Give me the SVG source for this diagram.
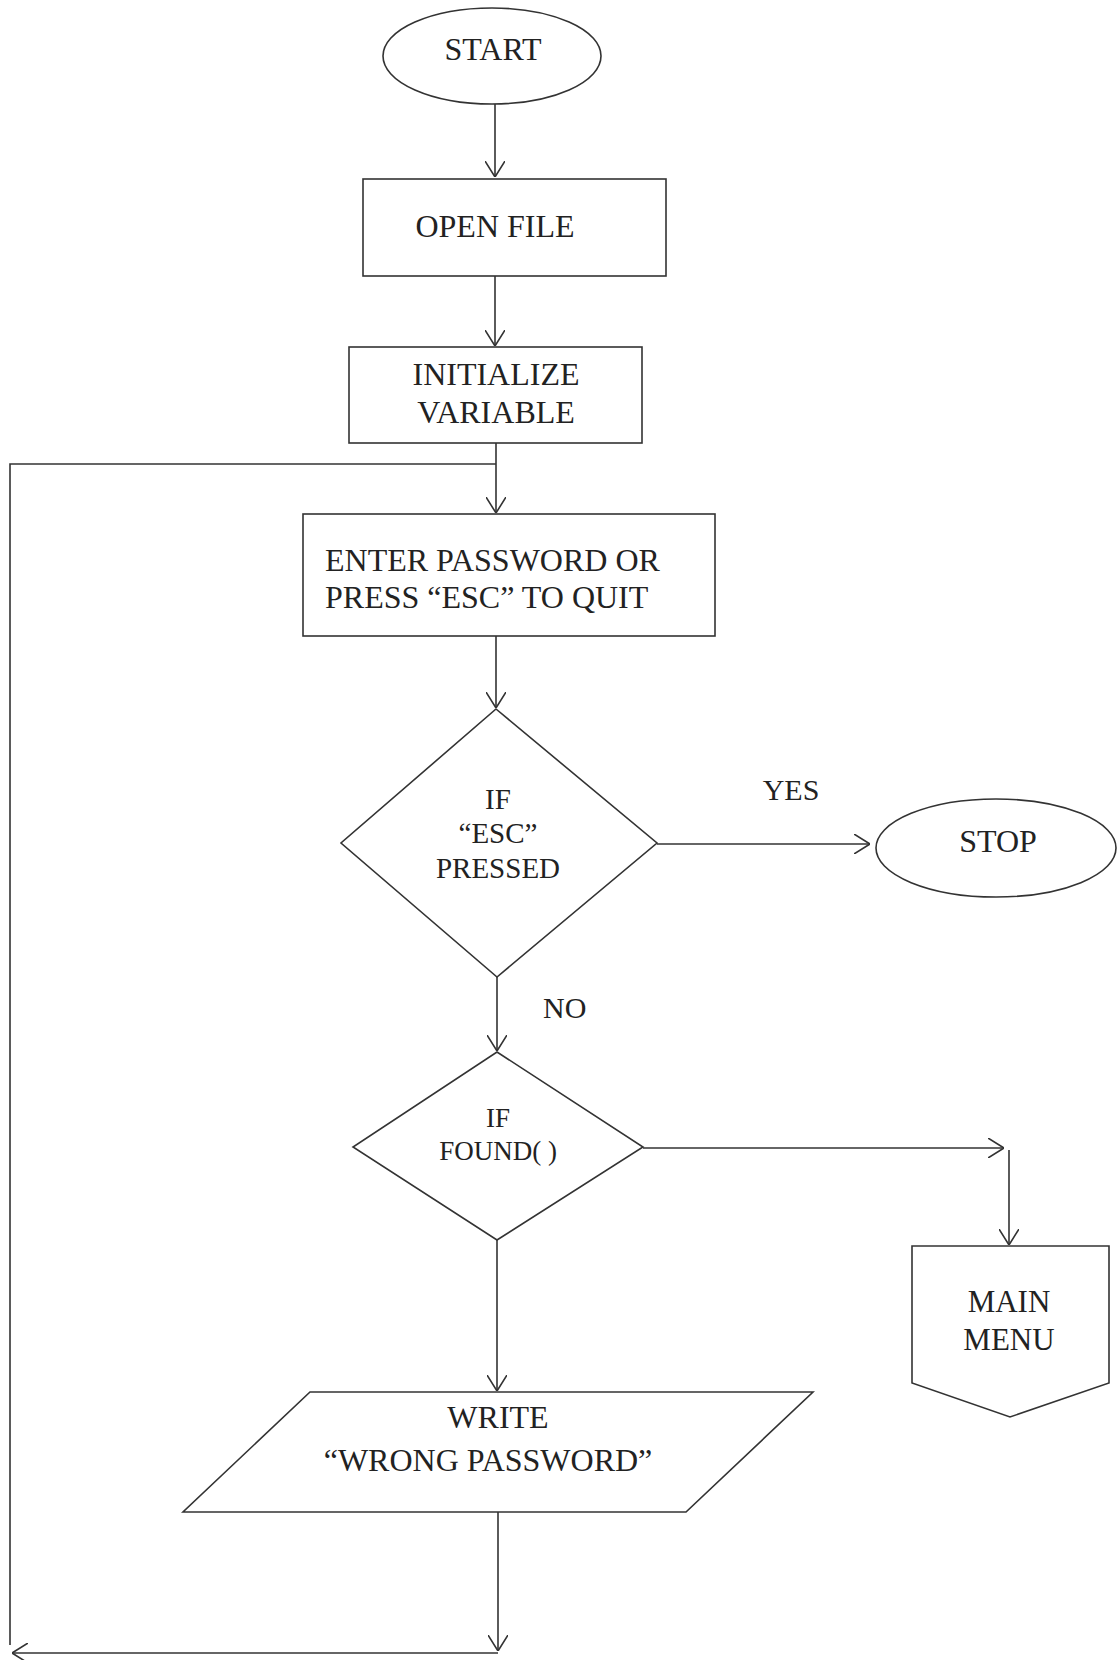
<svg xmlns="http://www.w3.org/2000/svg" width="1117" height="1660" viewBox="0 0 1117 1660">
<style>
.s{fill:none;stroke:#333;stroke-width:1.6}
.n{fill:#fff;stroke:#333;stroke-width:1.6}
.t{font-family:"Liberation Serif","Times New Roman",serif;fill:#222;text-anchor:middle}
.l{font-family:"Liberation Serif","Times New Roman",serif;fill:#222}
</style>
<defs>
<marker id="ah" viewBox="0 0 16 20" refX="16" refY="10" markerWidth="16" markerHeight="20" markerUnits="userSpaceOnUse" orient="auto">
<path d="M0,0 L16,10 L0,20" fill="none" stroke="#333" stroke-width="1.6"/>
</marker>
</defs>
<rect width="1117" height="1660" fill="#fff"/>
<g id="connectors">
<line class="s" x1="495" y1="104" x2="495" y2="177" marker-end="url(#ah)"/>
<line class="s" x1="495" y1="276" x2="495" y2="346" marker-end="url(#ah)"/>
<line class="s" x1="496" y1="443" x2="496" y2="513" marker-end="url(#ah)"/>
<polyline class="s" points="10,1645 10,464 496,464"/>
<line class="s" x1="496" y1="636" x2="496" y2="708" marker-end="url(#ah)"/>
<line class="s" x1="657" y1="844" x2="870" y2="844" marker-end="url(#ah)"/>
<line class="s" x1="497" y1="977" x2="497" y2="1051" marker-end="url(#ah)"/>
<line class="s" x1="643" y1="1148" x2="1004" y2="1148" marker-end="url(#ah)"/>
<line class="s" x1="1009" y1="1150" x2="1009" y2="1245" marker-end="url(#ah)"/>
<line class="s" x1="497" y1="1240" x2="497" y2="1391" marker-end="url(#ah)"/>
<line class="s" x1="498" y1="1512" x2="498" y2="1651" marker-end="url(#ah)"/>
<line class="s" x1="498" y1="1653" x2="12" y2="1653" marker-end="url(#ah)"/>
</g>
<g id="start">
<ellipse class="n" cx="492" cy="56" rx="109" ry="48"/>
<text class="t" x="493" y="60" font-size="32">START</text>
</g>
<g id="openfile">
<rect class="n" x="363" y="179" width="303" height="97"/>
<text class="t" x="495" y="237" font-size="32">OPEN FILE</text>
</g>
<g id="init">
<rect class="n" x="349" y="347" width="293" height="96"/>
<text class="t" x="496" y="385" font-size="32">INITIALIZE</text>
<text class="t" x="496" y="423" font-size="32">VARIABLE</text>
</g>
<g id="enter">
<rect class="n" x="303" y="514" width="412" height="122"/>
<text class="l" x="325" y="571" font-size="32">ENTER PASSWORD OR</text>
<text class="l" x="325" y="608" font-size="32">PRESS “ESC” TO QUIT</text>
</g>
<g id="ifesc">
<polygon class="n" points="496,709 657,843 497,977 341,843"/>
<text class="t" x="498" y="809" font-size="29">IF</text>
<text class="t" x="498" y="843" font-size="29">“ESC”</text>
<text class="t" x="498" y="878" font-size="29">PRESSED</text>
</g>
<text class="t" x="791" y="800" font-size="30">YES</text>
<g id="stop">
<ellipse class="n" cx="996" cy="848" rx="120" ry="49"/>
<text class="t" x="998" y="852" font-size="32">STOP</text>
</g>
<text class="l" x="543" y="1018" font-size="30">NO</text>
<g id="iffound">
<polygon class="n" points="497,1052 643,1147 497,1240 353,1147"/>
<text class="t" x="498" y="1127" font-size="27">IF</text>
<text class="t" x="498" y="1160" font-size="27">FOUND( )</text>
</g>
<g id="mainmenu">
<polygon class="n" points="912,1246 1109,1246 1109,1383 1010,1417 912,1383"/>
<text class="t" x="1009" y="1312" font-size="31">MAIN</text>
<text class="t" x="1009" y="1350" font-size="31">MENU</text>
</g>
<g id="wrong">
<polygon class="n" points="310,1392 813,1392 686,1512 183,1512"/>
<text class="t" x="498" y="1428" font-size="32">WRITE</text>
<text class="t" x="488" y="1471" font-size="32">“WRONG PASSWORD”</text>
</g>
</svg>
